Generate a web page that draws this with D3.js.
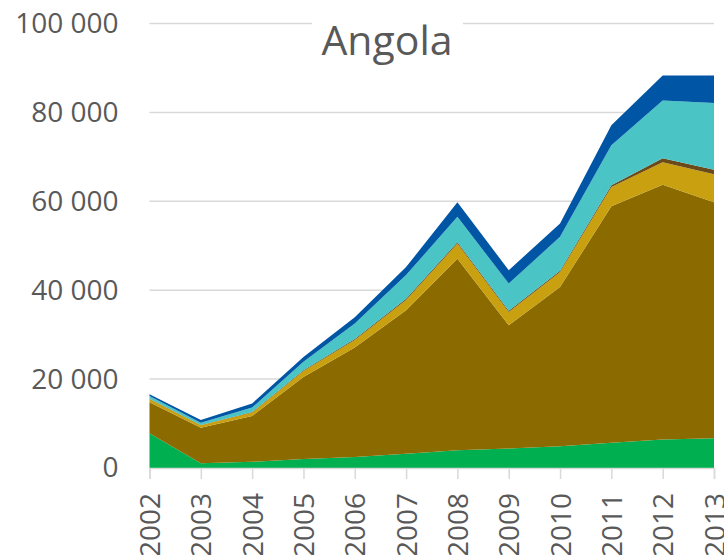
<!DOCTYPE html>
<html>
<head>
<meta charset="utf-8">
<script src="https://cdn.jsdelivr.net/npm/d3@7"></script>
<style>
  body { margin: 0; background: #fff; }
  text { font-family: "Open Sans", sans-serif; fill: #595959; }
</style>
</head>
<body>
<div id="chart"></div>
<script>
// years along the x axis
let years = [2002, 2003, 2004, 2005, 2006, 2007, 2008, 2009, 2010, 2011, 2012, 2013];

// series values, bottom layer first
let seriesGreen    = [7800, 1050, 1400, 2000, 2500, 3200, 4000, 4400, 4900, 5700, 6400, 6700];
let seriesBrown    = [7000, 8000, 10300, 18500, 24600, 32300, 43100, 27700, 35800, 53200, 57300, 53100];
let seriesGold     = [700, 550, 800, 1300, 1700, 2300, 3400, 3000, 3400, 4300, 5100, 6300];
let seriesDark     = [100, 100, 100, 200, 200, 300, 300, 300, 300, 400, 900, 1000];
let seriesTeal     = [600, 500, 1000, 1900, 3500, 5300, 5700, 6100, 7600, 9000, 13000, 15000];
let seriesBlue     = [400, 600, 900, 1100, 1400, 1800, 3300, 3000, 3000, 4500, 5600, 6200];

let yTicks = [0, 20000, 40000, 60000, 80000, 100000];
let title = 'Angola';

let keys = ['green', 'brown', 'gold', 'dark', 'teal', 'blue'];
let colors = {
    green: '#00b050',
    brown: '#8b6a00',
    gold: '#c9a010',
    dark: '#6b4a1a',
    teal: '#4ac4c4',
    blue: '#0055a5'
};

let svgWidth = 724;
let svgHeight = 555;

let plot = { left: 149.5, right: 714, top: 23.5, bottom: 468 };

// table for the stack layout
let table = years.map((y, i) => ({
    year: y,
    green: seriesGreen[i],
    brown: seriesBrown[i],
    gold: seriesGold[i],
    dark: seriesDark[i],
    teal: seriesTeal[i],
    blue: seriesBlue[i]
}));

let svg = d3.select('#chart')
    .append('svg')
    .attr('width', svgWidth)
    .attr('height', svgHeight);

let x = d3.scaleLinear()
    .domain([years[0], years[years.length - 1]])
    .range([plot.left, plot.right]);

let y = d3.scaleLinear()
    .domain([0, 100000])
    .range([plot.bottom, plot.top]);

// gridlines
svg.append('g')
    .selectAll('line')
    .data(yTicks.slice(1))
    .enter()
    .append('line')
    .attr('x1', plot.left)
    .attr('x2', plot.right)
    .attr('y1', d => y(d))
    .attr('y2', d => y(d))
    .attr('stroke', '#d9d9d9')
    .attr('stroke-width', 1.5);

// stacked areas
let stacked = d3.stack().keys(keys)(table);

let area = d3.area()
    .x(d => x(d.data.year))
    .y0(d => y(d[0]))
    .y1(d => y(d[1]));

svg.append('g')
    .selectAll('path')
    .data(stacked)
    .enter()
    .append('path')
    .attr('d', area)
    .attr('fill', d => colors[d.key]);

// x axis
let xAxis = svg.append('g')
    .attr('transform', `translate(0, ${plot.bottom})`)
    .call(d3.axisBottom(x).tickValues(years).tickFormat(d3.format('d')).tickSize(11));

xAxis.select('.domain').attr('stroke', '#d9d9d9').attr('stroke-width', 1.5);
xAxis.selectAll('.tick line').attr('stroke', '#d9d9d9').attr('stroke-width', 1.5);
xAxis.selectAll('.tick text')
    .attr('x', 0)
    .attr('y', 0)
    .attr('dy', '0.36em')
    .attr('transform', 'translate(0, 25) rotate(-90)')
    .style('text-anchor', 'end')
    .style('font-size', '28px')
    .attr('fill', '#595959');

// y axis labels
let yAxis = svg.append('g')
    .attr('transform', `translate(${plot.left}, 0)`)
    .call(d3.axisLeft(y)
        .tickValues(yTicks)
        .tickSize(0)
        .tickPadding(31)
        .tickFormat(d => d3.format(',')(d).replace(/,/g, ' ')));

yAxis.select('.domain').remove();
yAxis.selectAll('.tick text')
    .style('font-size', '28px')
    .attr('fill', '#595959');

// title with a white box behind it
svg.append('rect')
    .attr('x', 312)
    .attr('y', 8)
    .attr('width', 151)
    .attr('height', 62)
    .attr('fill', '#fff');

svg.append('text')
    .attr('x', 387)
    .attr('y', 55)
    .attr('text-anchor', 'middle')
    .style('font-size', '41px')
    .text(title);
</script>
</body>
</html>
